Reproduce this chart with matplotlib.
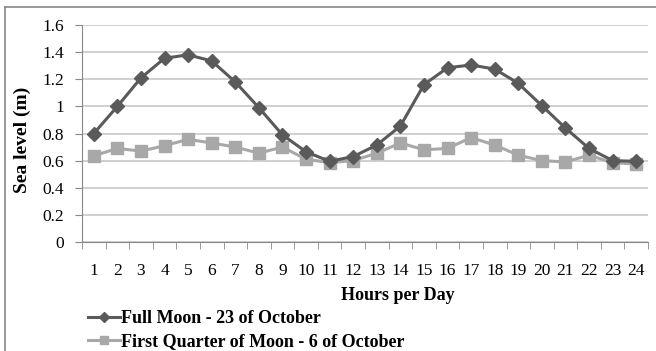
import numpy as np
import matplotlib.pyplot as plt
from matplotlib.lines import Line2D

hours = list(range(1, 25))
full_moon = [0.80, 1.00, 1.21, 1.355, 1.38, 1.335, 1.18, 0.99, 0.79, 0.665, 0.595, 0.63,
             0.715, 0.855, 1.16, 1.285, 1.305, 1.275, 1.17, 1.005, 0.84, 0.69, 0.60, 0.595]
first_quarter = [0.636, 0.69, 0.67, 0.71, 0.757, 0.73, 0.70, 0.655, 0.70, 0.61, 0.585, 0.60,
                 0.655, 0.73, 0.68, 0.69, 0.77, 0.715, 0.64, 0.60, 0.59, 0.64, 0.585, 0.575]

full_label = 'Full Moon - 23 of October'
quarter_label = 'First Quarter of Moon - 6 of October'

dark = '#5a5a5a'
light = '#a8a8a8'

plt.rcParams['font.family'] = ['Liberation Serif', 'DejaVu Serif']

fig = plt.figure(figsize=(6.56, 3.51), dpi=100)
ax = fig.add_axes([82 / 656, 1 - 242 / 351, 566 / 656, 217 / 351])

x = np.arange(len(hours))
ax.plot(x, full_moon, color=dark, lw=2.2, marker='D', ms=7.5, zorder=3)
ax.plot(x, first_quarter, color=light, lw=2.2, marker='s', ms=8, zorder=2)

ax.set_xlim(-0.5, len(hours) - 0.5)
ax.set_ylim(0, 1.6)
ax.set_yticks(np.arange(0, 1.61, 0.2))
ax.set_yticklabels(['0', '0.2', '0.4', '0.6', '0.8', '1', '1.2', '1.4', '1.6'])
ax.set_xticks(x)
ax.set_xticklabels([str(h) for h in hours])
ax.set_xticks(np.arange(-0.5, len(hours)), minor=True)
ax.tick_params(axis='x', which='major', length=0, pad=15, labelsize=12.5)
ax.tick_params(axis='x', which='minor', length=5, color='#888888', direction='out')
ax.tick_params(axis='y', length=5, color='#888888', labelsize=12.5, pad=8)
ax.yaxis.grid(True, color='#c8c8c8', lw=1.2)
ax.set_axisbelow(True)
for s in ['top', 'right']:
    ax.spines[s].set_visible(False)
for s in ['left', 'bottom']:
    ax.spines[s].set_color('#888888')

fig.text(398 / 656, 1 - 295 / 351, 'Hours per Day', ha='center', va='center',
         fontweight='bold', fontsize=13)
fig.text(22 / 656, 1 - 140 / 351, 'Sea level (m)', ha='center', va='center',
         rotation=90, fontweight='bold', fontsize=14)

handles = [Line2D([], [], color=dark, lw=2.2, marker='D', ms=5),
           Line2D([], [], color=light, lw=2.2, marker='s', ms=6)]
fig.legend(handles, [full_label, quarter_label], loc='upper left',
           bbox_to_anchor=(81 / 656, 1 - 303 / 351), frameon=False,
           prop={'weight': 'bold', 'size': 13}, handlelength=1.75, handletextpad=0.05,
           labelspacing=0.32, borderaxespad=0)

# chart border
fig.add_artist(Line2D([5 / 656, 5 / 656], [0, 1 - 7 / 351], color='#888888', lw=1.2))
fig.add_artist(Line2D([5 / 656, 1], [1 - 7 / 351, 1 - 7 / 351], color='#888888', lw=1.2))

fig.savefig('out.png', dpi=100)
